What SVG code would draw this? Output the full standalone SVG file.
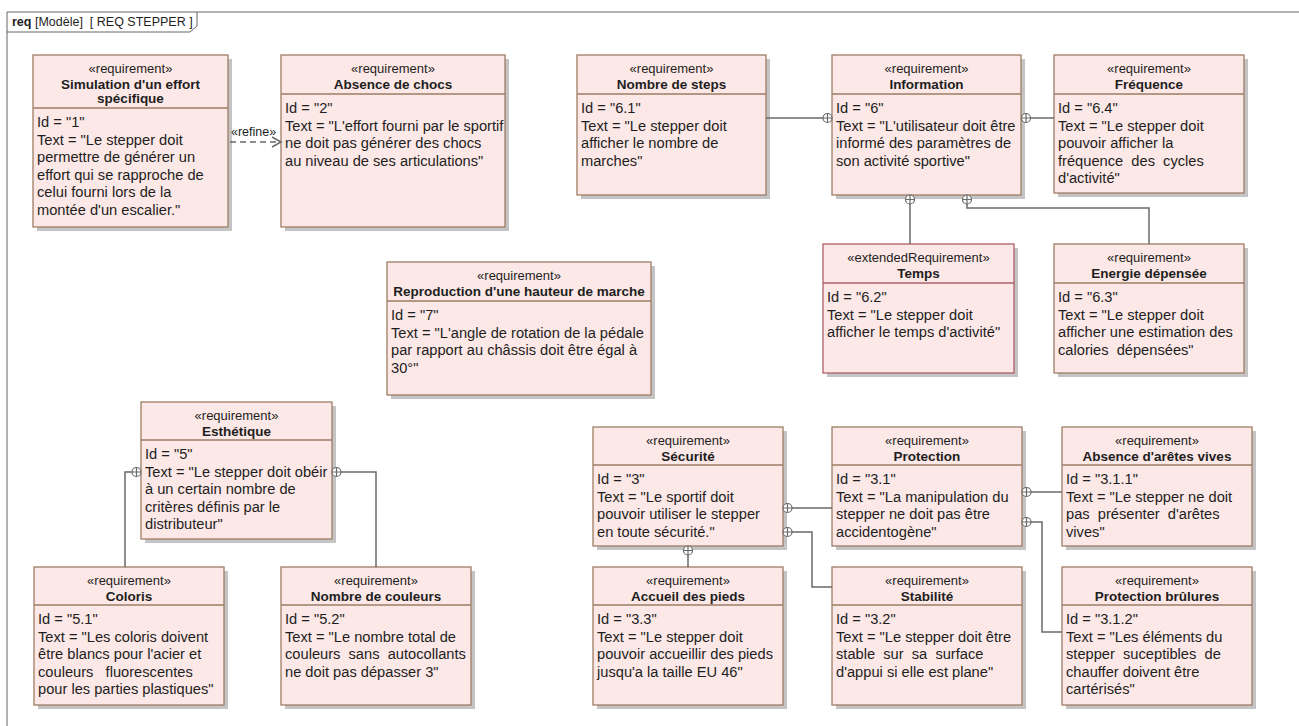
<svg xmlns="http://www.w3.org/2000/svg" width="1299" height="726" viewBox="0 0 1299 726">
<style>
text{font-family:"Liberation Sans",Arial,sans-serif;fill:#1e1e1e;white-space:pre}
.st{font-size:13px;text-anchor:middle}
.ti{font-size:13.5px;font-weight:bold;text-anchor:middle}
.bd{font-size:14.67px}
.box{fill:#fce8e6;stroke:#9e7d66;stroke-width:1.3}
.ext{fill:#fce8e6;stroke:#b0606a;stroke-width:1.3}
.sep{stroke:#9e7d66;stroke-width:1.3}
.sepx{stroke:#b0606a;stroke-width:1.3}
.sh{fill:#c4c4c4}
.cn{fill:none;stroke:#6a6a6a;stroke-width:1.5}
.cp circle,.cp path{fill:#fff;stroke:#6a6a6a;stroke-width:1.2}
.frame{fill:none;stroke:#666;stroke-width:1}
</style>
<defs>
<g id="cp" class="cp"><circle r="4.5"/><path d="M-4.5,0H4.5M0,-4.5V4.5"/></g>
</defs>
<rect x="0" y="0" width="1299" height="726" fill="#fff"/>
<g id="frame">
<path class="frame" d="M7,726V12H1299M7,32H190L197,26V12"/>
<text x="12" y="26" style="font-size:12.5px" xml:space="preserve"><tspan font-weight="bold">req</tspan> [Modèle]  [ REQ STEPPER ]</text>
</g>

<g id="n1">
<rect class="sh" x="37" y="59" width="195" height="172"/>
<rect class="box" x="33" y="55" width="195" height="172"/>
<line class="sep" x1="33" y1="108" x2="228" y2="108"/>
<text class="st" x="130.5" y="73">«requirement»</text>
<text class="ti" x="130.5" y="89">Simulation d'un effort</text>
<text class="ti" x="130.5" y="103">spécifique</text>
<text class="bd" x="37" y="127">Id = "1"</text>
<text class="bd" x="37" y="144.5">Text = "Le stepper doit</text>
<text class="bd" x="37" y="162">permettre de générer un</text>
<text class="bd" x="37" y="179.5">effort qui se rapproche de</text>
<text class="bd" x="37" y="197">celui fourni lors de la</text>
<text class="bd" x="37" y="214.5">montée d'un escalier."</text>
</g>

<g id="n2">
<rect class="sh" x="285" y="59" width="224" height="172"/>
<rect class="box" x="281" y="55" width="224" height="172"/>
<line class="sep" x1="281" y1="94" x2="505" y2="94"/>
<text class="st" x="393" y="73">«requirement»</text>
<text class="ti" x="393" y="89">Absence de chocs</text>
<text class="bd" x="285" y="113">Id = "2"</text>
<text class="bd" x="285" y="130.5">Text = "L'effort fourni par le sportif</text>
<text class="bd" x="285" y="148">ne doit pas générer des chocs</text>
<text class="bd" x="285" y="165.5">au niveau de ses articulations"</text>
</g>

<g id="n61">
<rect class="sh" x="581" y="59" width="189" height="140"/>
<rect class="box" x="577" y="55" width="189" height="140"/>
<line class="sep" x1="577" y1="94" x2="766" y2="94"/>
<text class="st" x="671.5" y="73">«requirement»</text>
<text class="ti" x="671.5" y="89">Nombre de steps</text>
<text class="bd" x="581" y="113">Id = "6.1"</text>
<text class="bd" x="581" y="130.5">Text = "Le stepper doit</text>
<text class="bd" x="581" y="148">afficher le nombre de</text>
<text class="bd" x="581" y="165.5">marches"</text>
</g>

<g id="n6">
<rect class="sh" x="836" y="59" width="189" height="140"/>
<rect class="box" x="832" y="55" width="189" height="140"/>
<line class="sep" x1="832" y1="94" x2="1021" y2="94"/>
<text class="st" x="926.5" y="73">«requirement»</text>
<text class="ti" x="926.5" y="89">Information</text>
<text class="bd" x="836" y="113">Id = "6"</text>
<text class="bd" x="836" y="130.5">Text = "L'utilisateur doit être</text>
<text class="bd" x="836" y="148">informé des paramètres de</text>
<text class="bd" x="836" y="165.5">son activité sportive"</text>
</g>

<g id="n64">
<rect class="sh" x="1058" y="59" width="190" height="138"/>
<rect class="box" x="1054" y="55" width="190" height="138"/>
<line class="sep" x1="1054" y1="94" x2="1244" y2="94"/>
<text class="st" x="1149" y="73">«requirement»</text>
<text class="ti" x="1149" y="89">Fréquence</text>
<text class="bd" x="1058" y="113">Id = "6.4"</text>
<text class="bd" x="1058" y="130.5">Text = "Le stepper doit</text>
<text class="bd" x="1058" y="148">pouvoir afficher la</text>
<text class="bd" x="1058" y="165.5" xml:space="preserve">fréquence  des  cycles</text>
<text class="bd" x="1058" y="183">d'activité"</text>
</g>

<g id="n62">
<rect class="sh" x="827" y="248" width="191" height="129"/>
<rect class="ext" x="823" y="244" width="191" height="129"/>
<line class="sepx" x1="823" y1="283" x2="1014" y2="283"/>
<text class="st" x="918.5" y="262">«extendedRequirement»</text>
<text class="ti" x="918.5" y="278">Temps</text>
<text class="bd" x="827" y="302">Id = "6.2"</text>
<text class="bd" x="827" y="319.5">Text = "Le stepper doit</text>
<text class="bd" x="827" y="337">afficher le temps d'activité"</text>
</g>

<g id="n63">
<rect class="sh" x="1058" y="248" width="190" height="129"/>
<rect class="box" x="1054" y="244" width="190" height="129"/>
<line class="sep" x1="1054" y1="283" x2="1244" y2="283"/>
<text class="st" x="1149" y="262">«requirement»</text>
<text class="ti" x="1149" y="278">Energie dépensée</text>
<text class="bd" x="1058" y="302">Id = "6.3"</text>
<text class="bd" x="1058" y="319.5">Text = "Le stepper doit</text>
<text class="bd" x="1058" y="337">afficher une estimation des</text>
<text class="bd" x="1058" y="354.5" xml:space="preserve">calories  dépensées"</text>
</g>

<g id="n7">
<rect class="sh" x="391" y="266" width="264" height="133"/>
<rect class="box" x="387" y="262" width="264" height="133"/>
<line class="sep" x1="387" y1="301" x2="651" y2="301"/>
<text class="st" x="519" y="280">«requirement»</text>
<text class="ti" x="519" y="296">Reproduction d'une hauteur de marche</text>
<text class="bd" x="391" y="320">Id = "7"</text>
<text class="bd" x="391" y="337.5">Text = "L'angle de rotation de la pédale</text>
<text class="bd" x="391" y="355">par rapport au châssis doit être égal à</text>
<text class="bd" x="391" y="372.5">30°"</text>
</g>

<g id="n5">
<rect class="sh" x="145" y="406" width="191" height="137"/>
<rect class="box" x="141" y="402" width="191" height="137"/>
<line class="sep" x1="141" y1="440" x2="332" y2="440"/>
<text class="st" x="236.5" y="420">«requirement»</text>
<text class="ti" x="236.5" y="436">Esthétique</text>
<text class="bd" x="145" y="459">Id = "5"</text>
<text class="bd" x="145" y="476.5">Text = "Le stepper doit obéir</text>
<text class="bd" x="145" y="494">à un certain nombre de</text>
<text class="bd" x="145" y="511.5">critères définis par le</text>
<text class="bd" x="145" y="529">distributeur"</text>
</g>

<g id="n51">
<rect class="sh" x="38" y="571" width="190" height="138"/>
<rect class="box" x="34" y="567" width="190" height="138"/>
<line class="sep" x1="34" y1="605" x2="224" y2="605"/>
<text class="st" x="129" y="585">«requirement»</text>
<text class="ti" x="129" y="601">Coloris</text>
<text class="bd" x="38" y="624">Id = "5.1"</text>
<text class="bd" x="38" y="641.5">Text = "Les coloris doivent</text>
<text class="bd" x="38" y="659">être blancs pour l'acier et</text>
<text class="bd" x="38" y="676.5" xml:space="preserve">couleurs   fluorescentes</text>
<text class="bd" x="38" y="694">pour les parties plastiques"</text>
</g>

<g id="n52">
<rect class="sh" x="285" y="571" width="190" height="138"/>
<rect class="box" x="281" y="567" width="190" height="138"/>
<line class="sep" x1="281" y1="605" x2="471" y2="605"/>
<text class="st" x="376" y="585">«requirement»</text>
<text class="ti" x="376" y="601">Nombre de couleurs</text>
<text class="bd" x="285" y="624">Id = "5.2"</text>
<text class="bd" x="285" y="641.5">Text = "Le nombre total de</text>
<text class="bd" x="285" y="659" xml:space="preserve">couleurs  sans  autocollants</text>
<text class="bd" x="285" y="676.5">ne doit pas dépasser 3"</text>
</g>

<g id="n3">
<rect class="sh" x="597" y="431" width="190" height="119"/>
<rect class="box" x="593" y="427" width="190" height="119"/>
<line class="sep" x1="593" y1="465" x2="783" y2="465"/>
<text class="st" x="688" y="445">«requirement»</text>
<text class="ti" x="688" y="461">Sécurité</text>
<text class="bd" x="597" y="484">Id = "3"</text>
<text class="bd" x="597" y="501.5">Text = "Le sportif doit</text>
<text class="bd" x="597" y="519">pouvoir utiliser le stepper</text>
<text class="bd" x="597" y="536.5">en toute sécurité."</text>
</g>

<g id="n33">
<rect class="sh" x="597" y="571" width="190" height="138"/>
<rect class="box" x="593" y="567" width="190" height="138"/>
<line class="sep" x1="593" y1="605" x2="783" y2="605"/>
<text class="st" x="688" y="585">«requirement»</text>
<text class="ti" x="688" y="601">Accueil des pieds</text>
<text class="bd" x="597" y="624">Id = "3.3"</text>
<text class="bd" x="597" y="641.5">Text = "Le stepper doit</text>
<text class="bd" x="597" y="659">pouvoir accueillir des pieds</text>
<text class="bd" x="597" y="676.5">jusqu'a la taille EU 46"</text>
</g>

<g id="n31">
<rect class="sh" x="836" y="431" width="190" height="119"/>
<rect class="box" x="832" y="427" width="190" height="119"/>
<line class="sep" x1="832" y1="465" x2="1022" y2="465"/>
<text class="st" x="927" y="445">«requirement»</text>
<text class="ti" x="927" y="461">Protection</text>
<text class="bd" x="836" y="484">Id = "3.1"</text>
<text class="bd" x="836" y="501.5">Text = "La manipulation du</text>
<text class="bd" x="836" y="519">stepper ne doit pas être</text>
<text class="bd" x="836" y="536.5">accidentogène"</text>
</g>

<g id="n311">
<rect class="sh" x="1066" y="431" width="190" height="119"/>
<rect class="box" x="1062" y="427" width="190" height="119"/>
<line class="sep" x1="1062" y1="465" x2="1252" y2="465"/>
<text class="st" x="1157" y="445">«requirement»</text>
<text class="ti" x="1157" y="461">Absence d'arêtes vives</text>
<text class="bd" x="1066" y="484">Id = "3.1.1"</text>
<text class="bd" x="1066" y="501.5">Text = "Le stepper ne doit</text>
<text class="bd" x="1066" y="519" xml:space="preserve">pas  présenter  d'arêtes</text>
<text class="bd" x="1066" y="536.5">vives"</text>
</g>

<g id="n32">
<rect class="sh" x="836" y="571" width="190" height="138"/>
<rect class="box" x="832" y="567" width="190" height="138"/>
<line class="sep" x1="832" y1="605" x2="1022" y2="605"/>
<text class="st" x="927" y="585">«requirement»</text>
<text class="ti" x="927" y="601">Stabilité</text>
<text class="bd" x="836" y="624">Id = "3.2"</text>
<text class="bd" x="836" y="641.5">Text = "Le stepper doit être</text>
<text class="bd" x="836" y="659" xml:space="preserve">stable  sur  sa  surface</text>
<text class="bd" x="836" y="676.5">d'appui si elle est plane"</text>
</g>

<g id="n312">
<rect class="sh" x="1066" y="571" width="190" height="138"/>
<rect class="box" x="1062" y="567" width="190" height="138"/>
<line class="sep" x1="1062" y1="605" x2="1252" y2="605"/>
<text class="st" x="1157" y="585">«requirement»</text>
<text class="ti" x="1157" y="601">Protection brûlures</text>
<text class="bd" x="1066" y="624">Id = "3.1.2"</text>
<text class="bd" x="1066" y="641.5">Text = "Les éléments du</text>
<text class="bd" x="1066" y="659" xml:space="preserve">stepper  suceptibles  de</text>
<text class="bd" x="1066" y="676.5">chauffer doivent être</text>
<text class="bd" x="1066" y="694">cartérisés"</text>
</g>

<g id="connectors">
<path class="cn" d="M230,142H276" stroke-dasharray="6,4"/>
<path class="cn" d="M272,137L281,142L272,147"/>
<text x="231" y="136" style="font-size:12.5px">«refine»</text>
<path class="cn" d="M766,118H823"/>
<use href="#cp" x="827.5" y="118"/>
<path class="cn" d="M1030.5,118H1054"/>
<use href="#cp" x="1026" y="118"/>
<path class="cn" d="M910,204V244"/>
<use href="#cp" x="910" y="199.5"/>
<path class="cn" d="M967,204V208H1149V244"/>
<use href="#cp" x="967" y="199.5"/>
<path class="cn" d="M132,472H125V567"/>
<use href="#cp" x="136.5" y="472"/>
<path class="cn" d="M341,472H376V567"/>
<use href="#cp" x="336.5" y="472"/>
<path class="cn" d="M688,555V567"/>
<use href="#cp" x="688" y="550.5"/>
<path class="cn" d="M792,508H832"/>
<use href="#cp" x="787.5" y="508"/>
<path class="cn" d="M792,532H812V587H832"/>
<use href="#cp" x="787.5" y="532"/>
<path class="cn" d="M1031,492H1062"/>
<use href="#cp" x="1026.5" y="492"/>
<path class="cn" d="M1031,522H1042V632H1062"/>
<use href="#cp" x="1026.5" y="522"/>
</g>
</svg>
